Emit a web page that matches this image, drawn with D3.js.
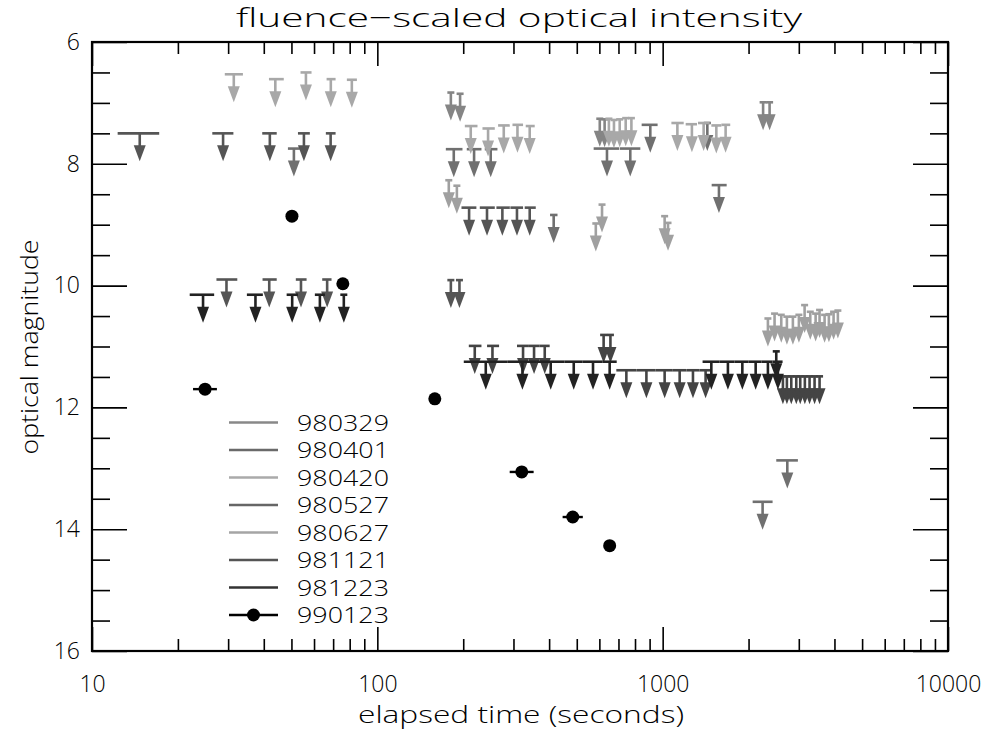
<!DOCTYPE html>
<html><head><meta charset="utf-8">
<script src="https://cdn.jsdelivr.net/npm/d3@7"></script>
<style>
body{margin:0;background:#fff}
svg{display:block}
text{font-family:"Open Sans","DejaVu Sans",sans-serif;font-weight:300;fill:#000}
</style>
</head><body>
<svg id="chart" width="992" height="734"></svg>
<script>
// ---------------- data ----------------
// upper limits: [time (s), exposure start (s), exposure end (s), limiting magnitude]
const lim980329 = [
  [181, 181, 181, 6.83], [195, 195, 195, 6.85],
  [602, 602, 602, 7.26], [626, 626, 626, 7.27],
  [2249, 2249, 2249, 6.99], [2370, 2370, 2370, 6.99]
];
const lim980401 = [
  [51.0, 48.6, 53.5, 7.75],
  [185.3, 173.8, 198.8, 7.76], [218.3, 205.8, 231.7, 7.76], [249.7, 238.0, 263.6, 7.76],
  [415, 403, 428, 8.84],
  [638, 573, 703, 7.75], [770, 707, 835, 7.75],
  [905, 844, 960, 7.36],
  [1434, 1434, 1434, 7.33],
  [1575, 1485, 1676, 8.35],
  [2240, 2067, 2428, 13.55],
  [2734, 2501, 2978, 12.87]
];
const lim980420 = [
  [31.4, 29.2, 33.8, 6.53], [43.9, 41.7, 47.0, 6.61], [56.2, 53.8, 58.8, 6.50],
  [68.7, 66.4, 71.4, 6.61], [81.4, 78.2, 84.8, 6.62],
  [212.5, 202.6, 224.4, 7.38], [244.4, 233.6, 258.0, 7.42], [277.4, 265.0, 291.2, 7.37],
  [309.8, 297.6, 324.1, 7.36], [342.0, 331.2, 356.1, 7.38],
  [648, 648, 648, 7.26], [675, 675, 675, 7.28], [707, 707, 707, 7.27],
  [742, 742, 742, 7.25], [777, 777, 777, 7.25],
  [1126, 1073, 1185, 7.33], [1266, 1204, 1319, 7.35], [1392, 1330, 1461, 7.33],
  [1542, 1481, 1606, 7.37], [1662, 1606, 1725, 7.36]
];
const lim980527 = [
  [14.7, 12.3, 17.2, 7.50], [28.8, 26.4, 31.3, 7.50], [42.0, 39.5, 44.4, 7.50],
  [55.3, 52.7, 58.0, 7.50], [68.6, 66.0, 71.4, 7.50],
  [29.6, 27.3, 32.3, 9.90], [41.8, 39.6, 44.4, 9.90], [54.0, 51.8, 56.5, 9.90], [66.7, 64.1, 69.1, 9.90],
  [181, 181, 181, 9.91], [194, 194, 194, 9.91],
  [209.7, 197.2, 222.4, 8.72], [242.3, 228.6, 258.0, 8.72], [274.3, 261.4, 291.2, 8.72],
  [308.6, 292.6, 324.1, 8.72], [342.0, 328.5, 359.1, 8.72]
];
const lim980627 = [
  [178, 178, 178, 8.27], [190, 190, 190, 8.36],
  [583, 583, 583, 8.98], [613, 613, 613, 8.67],
  [1016, 1016, 1016, 8.86], [1044, 1044, 1044, 8.97],
  [2338, 2338, 2338, 10.54], [2467, 2467, 2467, 10.46], [2604, 2604, 2604, 10.48],
  [2725, 2725, 2725, 10.51], [2860, 2860, 2860, 10.51], [3002, 3002, 3002, 10.48],
  [3144, 3144, 3144, 10.32], [3291, 3291, 3291, 10.43], [3436, 3436, 3436, 10.46],
  [3547, 3547, 3547, 10.40], [3694, 3694, 3694, 10.48], [3824, 3824, 3824, 10.47],
  [3972, 3972, 3972, 10.43], [4112, 4112, 4112, 10.41]
];
const lim981121 = [
  [219.5, 209.2, 231.7, 10.99], [253.2, 242.4, 267.1, 10.99], [324.1, 308.6, 339.8, 10.99],
  [354.2, 339.8, 370.9, 10.99], [386.1, 370.9, 401.8, 10.99],
  [621, 621, 621, 10.81], [656, 656, 656, 10.81],
  [746, 688, 809, 11.39], [877, 809, 945, 11.39], [1016, 945, 1080, 11.39],
  [1147, 1080, 1211, 11.39], [1277, 1211, 1348, 11.39], [1414, 1348, 1485, 11.39],
  [2639, 2639, 2639, 11.49], [2725, 2725, 2725, 11.49], [2823, 2823, 2823, 11.49],
  [2939, 2939, 2939, 11.49], [3035, 3035, 3035, 11.49], [3150, 3150, 3150, 11.49],
  [3272, 3272, 3272, 11.49], [3407, 3407, 3407, 11.49], [3547, 3547, 3547, 11.49]
];
const lim981223 = [
  [24.5, 22.0, 26.8, 10.15], [37.4, 34.9, 39.7, 10.15], [50.3, 48.1, 52.7, 10.15],
  [62.9, 60.4, 65.5, 10.15], [76.3, 74.9, 78.0, 10.15],
  [239.9, 200.9, 286.5, 11.25], [322.5, 286.5, 362.1, 11.25], [405.1, 362.1, 453.6, 11.25],
  [487.9, 453.6, 524.6, 11.25], [570.0, 524.6, 616.4, 11.25], [652.0, 616.4, 690.1, 11.25],
  [1481, 1380, 1584, 11.25], [1693, 1584, 1788, 11.25], [1902, 1788, 2001, 11.25],
  [2118, 2001, 2222, 11.25], [2338, 2222, 2428, 11.25], [2534, 2428, 2632, 11.25],
  [2501, 2501, 2501, 11.08]
];
// detections: [time (s), start (s), end (s), magnitude]
const det990123 = [
  [24.9, 22.6, 27.4, 11.70],
  [50.2, 50.2, 50.2, 8.86],
  [75.7, 75.7, 75.7, 9.97],
  [159, 159, 159, 11.86],
  [320.7, 291, 353, 13.06],
  [484, 446, 525, 13.80],
  [652, 652, 652, 14.27]
];
const burstNames = ["980329", "980401", "980420", "980527", "980627", "981121", "981223", "990123"];
const xTickValues = [10, 100, 1000, 10000];
const yTickValues = [6, 8, 10, 12, 14, 16];

// ---------------- styles ----------------
const burstColors = ["#858585", "#707070", "#a8a8a8", "#555555", "#a0a0a0", "#444444", "#222222", "#000000"];
const legendColors = ["#888888", "#6a6a6a", "#aaaaaa", "#666666", "#a5a5a5", "#555555", "#333333", "#000000"];
const limitSets = [lim980329, lim980401, lim980420, lim980527, lim980627, lim981121, lim981223];
const FONT = '"Open Sans","DejaVu Sans",sans-serif';

const svg = d3.select("#chart");
const L = 92, R = 948, T = 42, B = 651;
const x = d3.scaleLog().domain([10, 10000]).range([L, R]);
const y = d3.scaleLinear().domain([6, 16]).range([T, B]);

// minor ticks
const xMinor = [];
for (let d = 10; d < 10000; d *= 10) for (let k = 2; k <= 9; k++) xMinor.push(d * k);
const yMinor = d3.range(6, 16.01, 0.5).filter(v => Math.abs(v / 2 - Math.round(v / 2)) > 1e-6);

function addAxis(axis, tr) {
  const g = svg.append("g").attr("transform", tr).call(axis);
  g.select(".domain").remove();
  g.selectAll(".tick line").attr("stroke", "#000").attr("stroke-width", 1.6);
  g.selectAll(".tick text").style("font-family", FONT).style("font-weight", 300)
    .style("font-size", "23px").style("fill", "#000");
  return g;
}
addAxis(d3.axisBottom(x).tickValues(xTickValues).tickSize(-24).tickPadding(25).tickFormat(d3.format("d")), `translate(0,${B})`);
addAxis(d3.axisBottom(x).tickValues(xMinor).tickSize(-12).tickFormat(""), `translate(0,${B})`);
addAxis(d3.axisTop(x).tickValues(xTickValues).tickSize(-24).tickFormat(""), `translate(0,${T})`);
addAxis(d3.axisTop(x).tickValues(xMinor).tickSize(-12).tickFormat(""), `translate(0,${T})`);
addAxis(d3.axisLeft(y).tickValues(yTickValues).tickSize(-35).tickPadding(12).tickFormat(d3.format("d")), `translate(${L},0)`);
addAxis(d3.axisLeft(y).tickValues(yMinor).tickSize(-18).tickFormat(""), `translate(${L},0)`);
addAxis(d3.axisRight(y).tickValues(yTickValues).tickSize(-35).tickFormat(""), `translate(${R},0)`);
addAxis(d3.axisRight(y).tickValues(yMinor).tickSize(-18).tickFormat(""), `translate(${R},0)`);

svg.append("rect").attr("x", L).attr("y", T).attr("width", R - L).attr("height", B - T)
  .attr("fill", "none").attr("stroke", "#000").attr("stroke-width", 2.2);

// upper limit symbols
const plot = svg.append("g");
limitSets.forEach((set, i) => {
  const col = burstColors[i];
  const g = plot.append("g").attr("class", "s" + burstNames[i]);
  set.forEach(d => {
    const cx = x(d[0]), y0 = y(d[3]);
    let x1 = x(d[1]), x2 = x(d[2]);
    if (x2 - x1 < 7) { x1 = cx - 3.5; x2 = cx + 3.5; }
    g.append("line").attr("x1", x1).attr("x2", x2).attr("y1", y0).attr("y2", y0)
      .attr("stroke", col).attr("stroke-width", 2.6);
    g.append("line").attr("x1", cx).attr("x2", cx).attr("y1", y0).attr("y2", y0 + 13)
      .attr("stroke", col).attr("stroke-width", 2.6);
    g.append("path").attr("d", `M${cx - 6},${y0 + 12}L${cx + 6},${y0 + 12}L${cx},${y0 + 28}Z`)
      .attr("fill", col);
  });
});

// detections
const gDet = plot.append("g");
det990123.forEach(d => {
  const cx = x(d[0]), cy = y(d[3]);
  if (x(d[2]) - x(d[1]) > 1) {
    gDet.append("line").attr("x1", x(d[1])).attr("x2", x(d[2])).attr("y1", cy).attr("y2", cy)
      .attr("stroke", "#000").attr("stroke-width", 2.4);
  }
  gDet.append("circle").attr("cx", cx).attr("cy", cy).attr("r", 6.5).attr("fill", "#000");
});

// legend
const leg = svg.append("g");
burstNames.forEach((name, i) => {
  const ly = 422.5 + i * 27.5;
  leg.append("line").attr("x1", 229).attr("x2", 278).attr("y1", ly).attr("y2", ly)
    .attr("stroke", legendColors[i]).attr("stroke-width", 2.6);
  if (i === burstNames.length - 1)
    leg.append("circle").attr("cx", 253.5).attr("cy", ly).attr("r", 6.5).attr("fill", "#000");
  leg.append("text").attr("x", 297).attr("y", ly + 8).style("font-size", "22px")
    .attr("textLength", 92).attr("lengthAdjust", "spacingAndGlyphs").text(name);
});

// titles
svg.append("text").attr("x", 519).attr("y", 27).attr("text-anchor", "middle")
  .style("font-size", "26px").attr("textLength", 566).attr("lengthAdjust", "spacingAndGlyphs")
  .text("fluence\u2212scaled optical intensity");
svg.append("text").attr("x", 521).attr("y", 723).attr("text-anchor", "middle")
  .style("font-size", "23px").attr("textLength", 326).attr("lengthAdjust", "spacingAndGlyphs")
  .text("elapsed time (seconds)");
svg.append("text").attr("transform", "translate(38,347) rotate(-90)").attr("text-anchor", "middle")
  .style("font-size", "23px").attr("textLength", 215).attr("lengthAdjust", "spacingAndGlyphs")
  .text("optical magnitude");
</script>
</body></html>
